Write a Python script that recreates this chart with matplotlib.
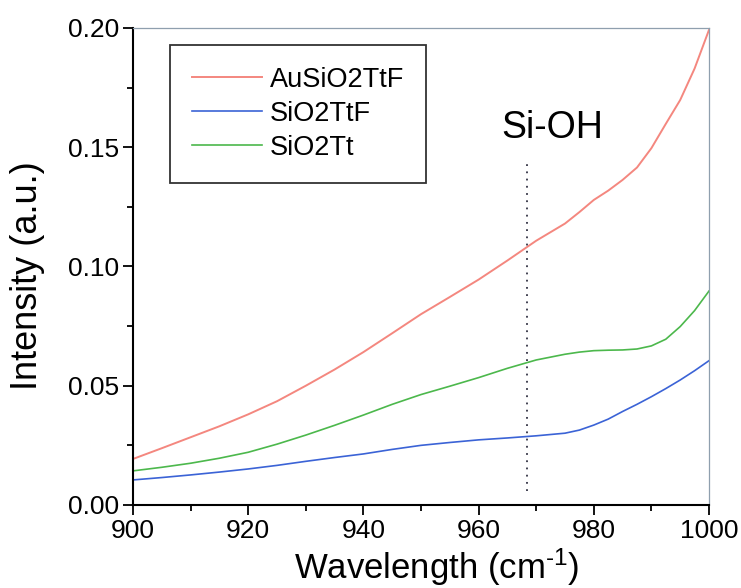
#!/usr/bin/env python3
import matplotlib
matplotlib.use("Agg")
import matplotlib.pyplot as plt
from matplotlib.ticker import MultipleLocator

plt.rcParams["font.family"] = ["Liberation Sans", "DejaVu Sans"]
plt.rcParams["mathtext.fontset"] = "custom"
plt.rcParams["mathtext.rm"] = "Liberation Sans"
plt.rcParams["mathtext.default"] = "regular"

# valores
wavelength = [900, 905, 910, 915, 920, 925, 930, 935, 940, 945, 950, 955, 960, 965, 970,
              975, 977.5, 980, 982.5, 985, 987.5, 990, 992.5, 995, 997.5, 1000]
au_sio2_ttf = [0.0193, 0.0238, 0.0284, 0.0330, 0.0380, 0.0435, 0.0500, 0.0568, 0.0641, 0.0720,
               0.0800, 0.0872, 0.0945, 0.1025, 0.1108, 0.1180, 0.1228, 0.1279, 0.1318, 0.1363,
               0.1415, 0.1496, 0.1598, 0.1698, 0.1830, 0.1992]
sio2_ttf = [0.0105, 0.0115, 0.0126, 0.0138, 0.0151, 0.0166, 0.0183, 0.0199, 0.0214, 0.0233,
            0.0250, 0.0262, 0.0273, 0.0281, 0.0290, 0.0301, 0.0314, 0.0335, 0.0360, 0.0392,
            0.0422, 0.0454, 0.0488, 0.0524, 0.0563, 0.0605]
sio2_tt = [0.0143, 0.0158, 0.0175, 0.0196, 0.0221, 0.0255, 0.0293, 0.0334, 0.0377, 0.0422,
           0.0463, 0.0498, 0.0534, 0.0573, 0.0608, 0.0632, 0.0641, 0.0647, 0.0649, 0.0650,
           0.0654, 0.0667, 0.0695, 0.0748, 0.0815, 0.0897]

peak_x = 968.4
peak_y = [0.006, 0.143]

fig = plt.figure(figsize=(7.41, 5.88), dpi=100)
ax = fig.add_axes([0.1795, 0.1412, 0.7773, 0.8112])

ax.plot(wavelength, au_sio2_ttf, color="#f4877f", lw=1.4, label="AuSiO2TtF")
ax.plot(wavelength, sio2_ttf, color="#3b63d6", lw=1.2, label="SiO2TtF")
ax.plot(wavelength, sio2_tt, color="#4cb84c", lw=1.2, label="SiO2Tt")
ax.plot([peak_x, peak_x], peak_y, color="#333344", lw=1.3, ls=(0, (1, 3)))

ax.text(972.8, 0.158, "Si-OH", fontsize=27, ha="center", va="center")

ax.set_xlim(900, 1000)
ax.set_ylim(0, 0.20)
ax.xaxis.set_major_locator(MultipleLocator(20))
ax.xaxis.set_minor_locator(MultipleLocator(10))
ax.yaxis.set_major_locator(MultipleLocator(0.05))
ax.yaxis.set_minor_locator(MultipleLocator(0.025))
ax.yaxis.set_major_formatter(plt.FuncFormatter(lambda v, p: f"{v:.2f}"))

ax.tick_params(which="both", direction="out", top=False, right=False, width=1.3,
               labelsize=19, pad=3)
ax.tick_params(which="major", length=7)
ax.tick_params(which="minor", length=4)
for s in ["left", "bottom"]:
    ax.spines[s].set_linewidth(1.5)
for s in ["top", "right"]:
    ax.spines[s].set_linewidth(0.9)
    ax.spines[s].set_color("#8f9fae")

ax.set_xlabel(r"Wavelength (cm$^{\text{-1}}$)", fontsize=25)
ax.xaxis.set_label_coords(0.528, -0.088)
ax.set_ylabel("Intensity (a.u.)", fontsize=26)
ax.yaxis.set_label_coords(-0.152, 0.481)

leg = ax.legend(loc="upper left", bbox_to_anchor=(0.0642, 0.9644), fontsize=19.5,
                frameon=True, fancybox=False, edgecolor="black", handlelength=2.6,
                handletextpad=0.3, labelspacing=0.3, borderpad=0.8, borderaxespad=0)
leg.get_frame().set_linewidth(1.3)

fig.savefig("out.png", dpi=100)
